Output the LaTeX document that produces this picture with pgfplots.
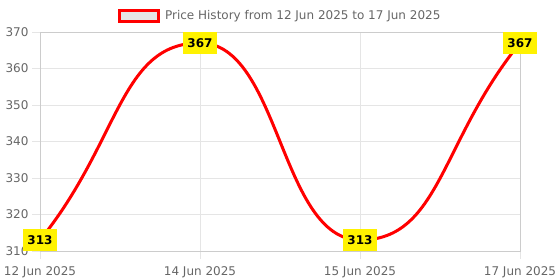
\documentclass[border=0pt]{standalone}
\usepackage{pgfplots}
\pgfplotsset{compat=1.18}
\usepackage{fontspec}
\setmainfont{DejaVu Sans}
\definecolor{tickgray}{HTML}{666666}
\definecolor{gridgray}{HTML}{E5E5E5}
\definecolor{axisgray}{HTML}{CCCCCC}
\definecolor{legfill}{HTML}{E6E6E6}
\newcommand{\twelve}{\fontsize{12bp}{14bp}\selectfont}

% plot handler with Chart.js-style spline (tension 0.5)
\makeatletter
\newcount\cj@n
\newcount\cj@i
\def\cj@t{0.5}
\def\cj@X#1{\csname cj@x@\number#1\endcsname}
\def\cj@Y#1{\csname cj@y@\number#1\endcsname}
\def\pgfplothandlerchartjs{%
  \def\pgf@plotstreamstart{%
    \global\cj@n=0
    \global\let\pgf@plotstreampoint=\cj@point
    \global\let\pgf@plotstreamspecial=\pgfutil@gobble
    \global\let\pgf@plotstreamend=\cj@draw
  }%
}
\def\cj@point#1{%
  \pgf@process{#1}%
  \expandafter\xdef\csname cj@x@\the\cj@n\endcsname{\pgf@sys@tonumber\pgf@x}%
  \expandafter\xdef\csname cj@y@\the\cj@n\endcsname{\pgf@sys@tonumber\pgf@y}%
  \global\advance\cj@n by 1
}
\def\cj@controls{%
  \edef\cj@p{\ifnum\cj@i>0 \the\numexpr\cj@i-1\relax\else 0\fi}%
  \edef\cj@q{\ifnum\cj@i<\numexpr\cj@n-1\relax \the\numexpr\cj@i+1\relax\else\the\numexpr\cj@n-1\relax\fi}%
  \edef\cj@xi{\cj@X{\cj@i}}\edef\cj@yi{\cj@Y{\cj@i}}%
  \edef\cj@xp{\cj@X{\cj@p}}\edef\cj@yp{\cj@Y{\cj@p}}%
  \edef\cj@xq{\cj@X{\cj@q}}\edef\cj@yq{\cj@Y{\cj@q}}%
  \edef\cj@da{\fpeval{sqrt(((\cj@xi)-(\cj@xp))^2+((\cj@yi)-(\cj@yp))^2)}}%
  \edef\cj@db{\fpeval{sqrt(((\cj@xq)-(\cj@xi))^2+((\cj@yq)-(\cj@yi))^2)}}%
  \edef\cj@fa{\fpeval{\cj@t*(\cj@da)/((\cj@da)+(\cj@db))}}%
  \edef\cj@fb{\fpeval{\cj@t*(\cj@db)/((\cj@da)+(\cj@db))}}%
  \expandafter\xdef\csname cj@px@\the\cj@i\endcsname{\fpeval{round((\cj@xi)-(\cj@fa)*((\cj@xq)-(\cj@xp)),4)}}%
  \expandafter\xdef\csname cj@py@\the\cj@i\endcsname{\fpeval{round((\cj@yi)-(\cj@fa)*((\cj@yq)-(\cj@yp)),4)}}%
  \expandafter\xdef\csname cj@nx@\the\cj@i\endcsname{\fpeval{round((\cj@xi)+(\cj@fb)*((\cj@xq)-(\cj@xp)),4)}}%
  \expandafter\xdef\csname cj@ny@\the\cj@i\endcsname{\fpeval{round((\cj@yi)+(\cj@fb)*((\cj@yq)-(\cj@yp)),4)}}%
}
\def\cj@seg{%
  \edef\cj@p{\the\numexpr\cj@i-1\relax}%
  \pgfpathcurveto
    {\pgfqpoint{\csname cj@nx@\cj@p\endcsname pt}{\csname cj@ny@\cj@p\endcsname pt}}%
    {\pgfqpoint{\csname cj@px@\the\cj@i\endcsname pt}{\csname cj@py@\the\cj@i\endcsname pt}}%
    {\pgfqpoint{\cj@X{\cj@i}pt}{\cj@Y{\cj@i}pt}}%
}
\def\cj@draw{%
  \ifnum\cj@n>1
    \cj@i=0
    \loop\ifnum\cj@i<\cj@n \cj@controls \advance\cj@i by 1 \repeat
    \pgfpathmoveto{\pgfqpoint{\cj@X{0}pt}{\cj@Y{0}pt}}%
    \cj@i=1
    \loop\ifnum\cj@i<\cj@n \cj@seg \advance\cj@i by 1 \repeat
  \fi
}
\tikzset{chartjs/.code={\let\tikz@plot@handler=\pgfplothandlerchartjs}}
\makeatother

\begin{document}
\begin{tikzpicture}
\path[use as bounding box] (-40bp,-29bp) rectangle (520bp,251bp);
\begin{axis}[
  at={(0,0)}, anchor=south west,
  width=480bp, height=219bp, scale only axis,
  xmin=0, xmax=3, ymin=310, ymax=370,
  xtick=data,
  xticklabels={12 Jun 2025, 14 Jun 2025, 15 Jun 2025, 17 Jun 2025},
  ytick={310,320,...,370},
  grid=major, grid style={gridgray, line width=0.8bp},
  axis line style={draw=axisgray, line width=0.8bp},
  tick pos=left, tick align=outside, major tick length=8bp,
  tick style={gridgray, line width=0.8bp},
  ticklabel style={font=\twelve, text=tickgray},
  xticklabel style={yshift=-4bp},
  /pgf/number format/assume math mode=true,
  clip=false,
  legend style={at={(0.5,1.073)}, anchor=center, draw=none, fill=none,
    font=\twelve, text=tickgray},
  legend image code/.code={%
    \draw[red, line width=3bp, fill=legfill] (0bp,-5.5bp) rectangle (39bp,5.5bp);
    \path (42.5bp,0bp);},
]
\addplot[red, line width=3bp, chartjs,
  nodes near coords,
  every node near coord/.append style={anchor=center, fill=yellow, text=black,
    font=\bfseries\twelve, inner xsep=4bp, inner ysep=6.6bp,
    text height=8.8bp, text depth=0pt}]
  coordinates {(0,313) (1,367) (2,313) (3,367)};
\addlegendentry{Price History from 12 Jun 2025 to 17 Jun 2025}
\end{axis}
\end{tikzpicture}
\end{document}
